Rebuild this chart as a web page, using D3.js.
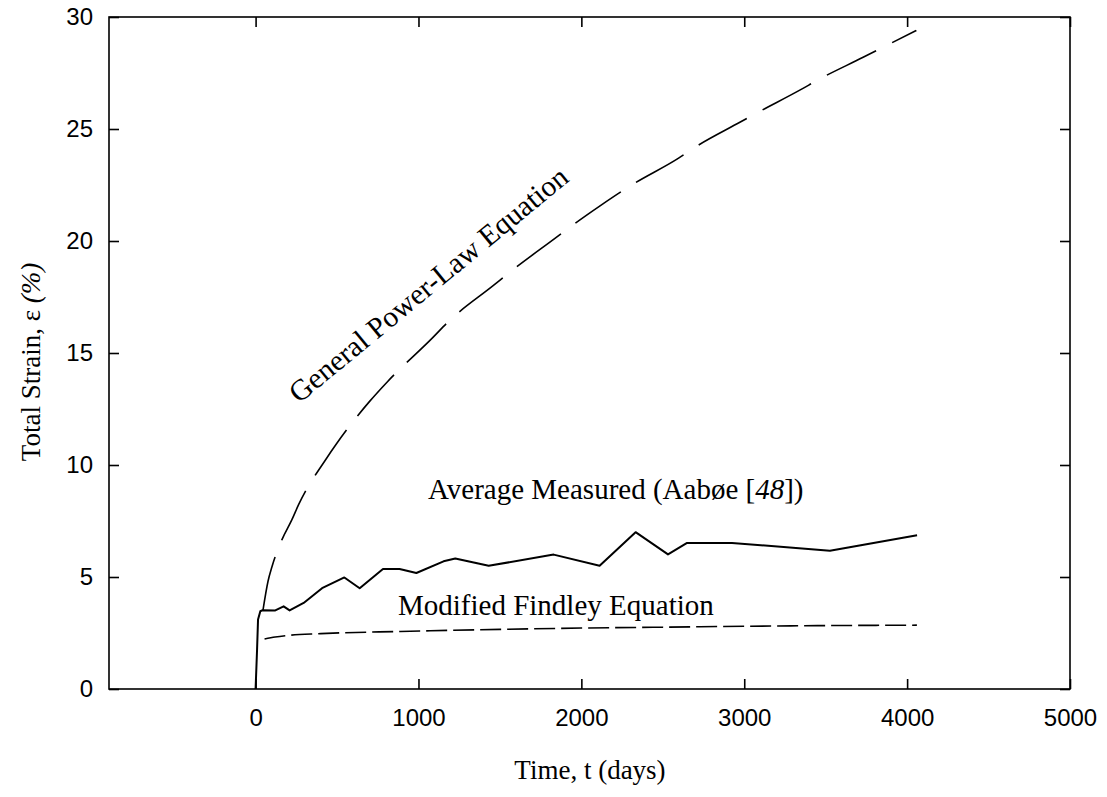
<!DOCTYPE html>
<html><head><meta charset="utf-8">
<script src="https://cdn.jsdelivr.net/npm/d3@7"></script>
<style>body{margin:0;background:#fff}</style>
</head><body>
<svg id="chart" width="1107" height="797"></svg>
<script>
// ---- data ----
const xTicks = [0, 1000, 2000, 3000, 4000, 5000];
const yTicks = [0, 5, 10, 15, 20, 25, 30];

const measuredT = [0, 9, 15, 29, 43, 121, 172, 209, 295, 408, 545, 639, 782, 884, 987, 1154, 1226, 1431, 1830, 2112, 2333, 2532, 2649, 2925, 3526, 4061];
const measuredE = [0, 1.75, 3.1, 3.47, 3.52, 3.51, 3.69, 3.51, 3.84, 4.5, 4.98, 4.5, 5.36, 5.36, 5.18, 5.7, 5.83, 5.5, 6.0, 5.5, 7.0, 6.01, 6.52, 6.52, 6.17, 6.86];

const powerT = [45, 76, 101, 162, 223, 264, 434, 500, 700, 811, 1089, 1179, 1468, 1556, 1846, 1932, 2117, 2311, 2597, 2690, 2976, 3068, 3355, 3447, 3730, 3822, 4057];
const powerE = [3.5, 4.8, 5.47, 6.67, 7.56, 8.23, 10.28, 10.98, 12.84, 13.73, 15.7, 16.37, 18.06, 18.58, 20.16, 20.63, 21.58, 22.51, 23.7, 24.15, 25.31, 25.68, 26.79, 27.17, 28.2, 28.54, 29.4];

const findleyT = [55, 120, 182, 400, 889, 1073, 1500, 2000, 2500, 3000, 3500, 4060];
const findleyE = [2.23, 2.32, 2.38, 2.47, 2.57, 2.6, 2.66, 2.72, 2.76, 2.8, 2.83, 2.85];

// ---- layout ----
const svg = d3.select("#chart");
const L = 109, R = 1070, T = 17, B = 689;
const x = d3.scaleLinear().domain([-900, 5000]).range([L, R]);
const y = d3.scaleLinear().domain([0, 30]).range([B, T]);

const sans = "'Liberation Sans', Arial, sans-serif";
const serif = "'Liberation Serif', 'Times New Roman', serif";

// frame
svg.append("rect").attr("x", L).attr("y", T).attr("width", R - L).attr("height", B - T)
  .attr("fill", "none").attr("stroke", "#000").attr("stroke-width", 1.6);

// axes with inward ticks
const tickLen = 10;
const gB = svg.append("g").attr("transform", `translate(0,${B})`)
  .call(d3.axisBottom(x).tickValues(xTicks).tickSize(-tickLen).tickPadding(20).tickFormat(d3.format("d")));
const gT = svg.append("g").attr("transform", `translate(0,${T})`)
  .call(d3.axisTop(x).tickValues(xTicks).tickSize(-tickLen).tickFormat(""));
const gL = svg.append("g").attr("transform", `translate(${L},0)`)
  .call(d3.axisLeft(y).tickValues(yTicks).tickSize(-tickLen).tickPadding(16).tickFormat(d3.format("d")));
const gR = svg.append("g").attr("transform", `translate(${R},0)`)
  .call(d3.axisRight(y).tickValues(yTicks).tickSize(-tickLen).tickFormat(""));
[gB, gT, gL, gR].forEach(g => {
  g.select(".domain").remove();
  g.selectAll("line").attr("stroke", "#000").attr("stroke-width", 1.6);
  g.selectAll("text").attr("fill", "#000").style("font-family", sans).style("font-size", "24px");
});

// lines
const line = d3.line().x(d => x(d[0])).y(d => y(d[1])).curve(d3.curveMonotoneX);
const linear = d3.line().x(d => x(d[0])).y(d => y(d[1]));

svg.append("path").datum(powerT.map((t, i) => [t, powerE[i]]))
  .attr("d", line).attr("fill", "none").attr("stroke", "#000").attr("stroke-width", 1.6)
  .attr("stroke-dasharray", "55,18");

svg.append("path").datum(findleyT.map((t, i) => [t, findleyE[i]]))
  .attr("d", line).attr("fill", "none").attr("stroke", "#000").attr("stroke-width", 1.6)
  .attr("stroke-dasharray", "21,6");

svg.append("path").datum(measuredT.map((t, i) => [t, measuredE[i]]))
  .attr("d", linear).attr("fill", "none").attr("stroke", "#000").attr("stroke-width", 2)
  .attr("stroke-linejoin", "round");

// annotations
svg.append("text").attr("x", 428).attr("y", 499)
  .style("font-family", serif).style("font-size", "29px")
  .html('Average Measured (Aabøe [<tspan font-style="italic">48</tspan>])');

svg.append("text").attr("x", 398).attr("y", 615)
  .style("font-family", serif).style("font-size", "29px")
  .text("Modified Findley Equation");

svg.append("text").attr("transform", "translate(299,404) rotate(-39.5)")
  .style("font-family", serif).style("font-size", "29.5px")
  .text("General Power-Law Equation");

// axis titles
svg.append("text").attr("x", 590).attr("y", 779).attr("text-anchor", "middle")
  .style("font-family", serif).style("font-size", "27px").text("Time, t (days)");

svg.append("text").attr("transform", `translate(40,362) rotate(-90)`).attr("text-anchor", "middle")
  .style("font-family", serif).style("font-size", "27px")
  .html('Total Strain, ε <tspan font-style="italic">(%)</tspan>');
</script>
</body></html>
